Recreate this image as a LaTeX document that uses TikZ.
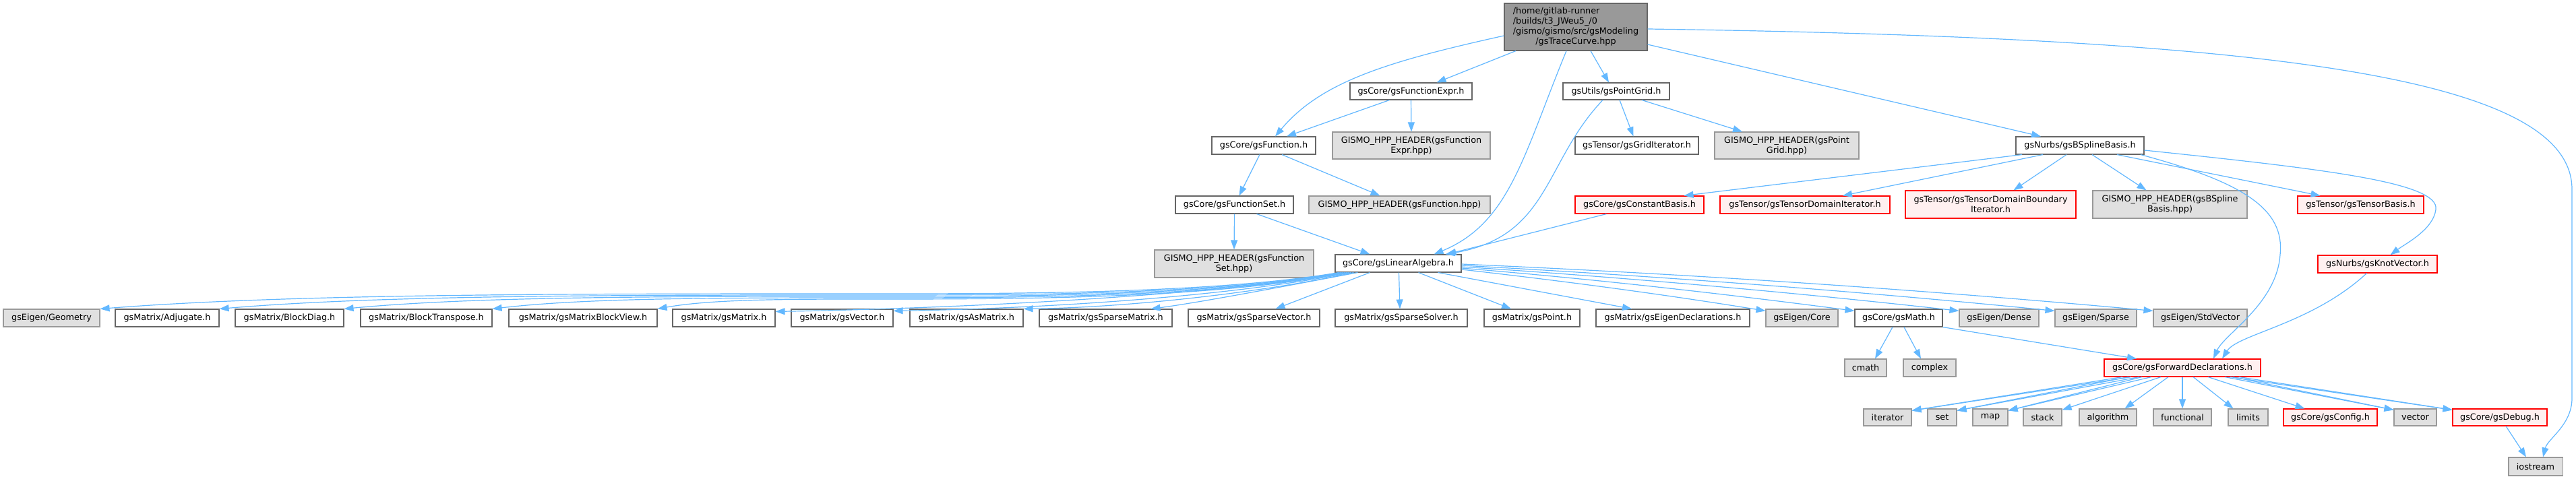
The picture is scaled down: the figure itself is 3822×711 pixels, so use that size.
\documentclass[tikz,border=0pt]{standalone}
\usepackage{fontspec}
\setmainfont{DejaVu Sans}
\usetikzlibrary{arrows.meta}
\definecolor{edgec}{HTML}{63B8FF}
\definecolor{bordn}{HTML}{666666}
\definecolor{bords}{HTML}{999999}
\definecolor{fills}{HTML}{E0E0E0}
\definecolor{fillr}{HTML}{FFF0F0}
\definecolor{filltop}{HTML}{999999}
\definecolor{bordr}{HTML}{FF0000}
\begin{document}
\begin{tikzpicture}[x=1pt,y=1pt,
  base/.style={draw, line width=1.1pt, inner sep=0pt, anchor=center, font=\fontsize{12.8}{15}\selectfont},
  nrm/.style={base, draw=bordn, fill=white},
  sys/.style={base, draw=bords, fill=fills},
  trunc/.style={base, draw=bordr, fill=fillr},
  topn/.style={base, draw=bordn, fill=filltop},
  wh/.style 2 args={minimum width=#1, minimum height=#2},
  edg/.style={draw=edgec, line width=1.2pt, -{Triangle[length=14pt,width=10pt]}}
]
\useasboundingbox (0,0) rectangle (3822,711);
\fill[white] (0,0) rectangle (3822,711);

% ---------- nodes ----------
\node[topn, wh={212}{70}] (T) at (2338,671) {\begin{tabular}{@{}l@{}}/home/gitlab-runner\\/builds/t3\_JWeu5\_/0\\/gismo/gismo/src/gsModeling\\\multicolumn{1}{@{}c@{}}{/gsTraceCurve.hpp}\end{tabular}};
\node[nrm, wh={181}{25}] (FE) at (2093.5,575.5) {gsCore/gsFunctionExpr.h};
\node[nrm, wh={158}{25}] (PG) at (2398,575.5) {gsUtils/gsPointGrid.h};

\node[nrm, wh={154}{26}] (FN) at (1875,495) {gsCore/gsFunction.h};
\node[sys, wh={234}{40}, align=center] (GFE) at (2094,495) {GISMO\_HPP\_HEADER(gsFunction\\Expr.hpp)};
\node[nrm, wh={183}{26}] (GI) at (2428.5,495) {gsTensor/gsGridIterator.h};
\node[sys, wh={214}{40}, align=center] (GPG) at (2651,495) {GISMO\_HPP\_HEADER(gsPoint\\Grid.hpp)};
\node[nrm, wh={190}{26}] (BSB) at (3086,495) {gsNurbs/gsBSplineBasis.h};

\node[nrm, wh={175}{26}] (FS) at (1831.5,407) {gsCore/gsFunctionSet.h};
\node[sys, wh={269}{26}] (GF) at (2076.5,407) {GISMO\_HPP\_HEADER(gsFunction.hpp)};
\node[trunc, wh={191}{26}] (CB) at (2432.5,407) {gsCore/gsConstantBasis.h};
\node[trunc, wh={252}{26}] (TDI) at (2678,407) {gsTensor/gsTensorDomainIterator.h};
\node[trunc, wh={253}{41}, align=center] (TDBI) at (2953.5,407.5) {gsTensor/gsTensorDomainBoundary\\Iterator.h};
\node[sys, wh={229}{41}, align=center] (GBSB) at (3219.5,407.5) {GISMO\_HPP\_HEADER(gsBSpline\\Basis.hpp)};
\node[trunc, wh={187}{26}] (TB) at (3502.5,407) {gsTensor/gsTensorBasis.h};

\node[sys, wh={236}{41}, align=center] (GFS) at (1831,319.5) {GISMO\_HPP\_HEADER(gsFunction\\Set.hpp)};
\node[nrm, wh={187}{26}] (LA) at (2074.5,320) {gsCore/gsLinearAlgebra.h};
\node[trunc, wh={177}{26}] (KV) at (3527.5,319) {gsNurbs/gsKnotVector.h};

\node[sys, wh={143}{26}] (GEO) at (76.5,239) {gsEigen/Geometry};
\node[nrm, wh={154}{26}] (ADJ) at (248,239) {gsMatrix/Adjugate.h};
\node[nrm, wh={161}{26}] (BD) at (429.5,239) {gsMatrix/BlockDiag.h};
\node[nrm, wh={195}{26}] (BT) at (632.5,239) {gsMatrix/BlockTranspose.h};
\node[nrm, wh={220}{26}] (MBV) at (865,239) {gsMatrix/gsMatrixBlockView.h};
\node[nrm, wh={152}{26}] (MAT) at (1074,239) {gsMatrix/gsMatrix.h};
\node[nrm, wh={151}{26}] (VECM) at (1249.5,239) {gsMatrix/gsVector.h};
\node[nrm, wh={168}{26}] (ASM) at (1434,239) {gsMatrix/gsAsMatrix.h};
\node[nrm, wh={197}{26}] (SPM) at (1640.5,239) {gsMatrix/gsSparseMatrix.h};
\node[nrm, wh={195}{26}] (SPV) at (1860.5,239) {gsMatrix/gsSparseVector.h};
\node[nrm, wh={196}{26}] (SS) at (2079,239) {gsMatrix/gsSparseSolver.h};
\node[nrm, wh={142}{26}] (PT) at (2273,239) {gsMatrix/gsPoint.h};
\node[nrm, wh={228}{26}] (ED) at (2482,239) {gsMatrix/gsEigenDeclarations.h};
\node[sys, wh={107}{26}] (CORE) at (2673.5,239) {gsEigen/Core};
\node[nrm, wh={130}{26}] (MATH) at (2817,239) {gsCore/gsMath.h};
\node[sys, wh={118}{26}] (DENSE) at (2966,239) {gsEigen/Dense};
\node[sys, wh={121}{26}] (SPARSE) at (3109.5,239) {gsEigen/Sparse};
\node[sys, wh={139}{26}] (STDV) at (3264.5,239) {gsEigen/StdVector};

\node[sys, wh={62}{26}] (CMATH) at (2768,165) {cmath};
\node[sys, wh={78}{26}] (CPLX) at (2863,165) {complex};
\node[trunc, wh={232}{26}] (FD) at (3238,165) {gsCore/gsForwardDeclarations.h};

\node[sys, wh={71}{25}] (IT) at (2800.5,91.5) {iterator};
\node[sys, wh={43}{25}] (SET) at (2881.5,91.5) {set};
\node[sys, wh={52}{25}] (MAP) at (2953,91.5) {map};
\node[sys, wh={57}{25}] (STK) at (3030.5,91.5) {stack};
\node[sys, wh={85}{25}] (ALG) at (3127.5,91.5) {algorithm};
\node[sys, wh={86}{25}] (FUN) at (3238,91.5) {functional};
\node[sys, wh={59}{25}] (LIM) at (3335.5,91.5) {limits};
\node[trunc, wh={139}{25}] (CFG) at (3457.5,91.5) {gsCore/gsConfig.h};
\node[sys, wh={63}{25}] (VEC) at (3583.5,91.5) {vector};
\node[trunc, wh={140}{25}] (DBG) at (3709,91.5) {gsCore/gsDebug.h};

\node[sys, wh={80}{27}] (IO) at (3762,18.5) {iostream};

% ---------- edges from top ----------
\draw[edg] ([yshift=-13]T.west) .. controls (2060,620) and (1960,590) .. ([xshift=17]FN.north);
\draw[edg] ([xshift=-89]T.south) -- ([xshift=38]FE.north);
\draw[edg] ([xshift=22]T.south) -- ([xshift=-11]PG.north);
\draw[edg] ([xshift=-14]T.south) .. controls (2260,480) and (2240,380) .. ([xshift=53]LA.north);
\draw[edg] ([yshift=-26]T.east) -- ([xshift=-58]BSB.north);
\draw[edg] ([yshift=-3]T.east) .. controls (3350,655) and (3816,600) .. (3816,430) -- (3816,120) .. controls (3816,80) and (3780,60) .. ([xshift=11]IO.north);

\draw[edg] ([xshift=-32]FE.south) -- ([xshift=34]FN.north);
\draw[edg] (FE.south) -- (GFE.north);
\draw[edg] ([xshift=-6]FN.south) -- ([xshift=7]FS.north);
\draw[edg] ([xshift=27]FN.south) -- ([xshift=-29]GF.north);
\draw[edg] ([xshift=5]PG.south) -- ([xshift=-5]GI.north);
\draw[edg] ([xshift=38]PG.south) -- ([xshift=-66]GPG.north);
\draw[edg] ([xshift=-20]PG.south) .. controls (2290,470) and (2300,360) .. ([xshift=70]LA.north);
\draw[edg] ([xshift=-49]CB.south) -- ([xshift=72]LA.north);
\draw[edg] (FS.south) -- (GFS.north);
\draw[edg] ([xshift=33]FS.south) -- ([xshift=-42]LA.north);

\draw[edg] ([xshift=-86]BSB.south) -- ([xshift=66]CB.north);
\draw[edg] ([xshift=-55]BSB.south) -- ([xshift=56]TDI.north);
\draw[edg] ([xshift=-20]BSB.south) -- ([xshift=34]TDBI.north);
\draw[edg] ([xshift=18]BSB.south) -- ([xshift=-35]GBSB.north);
\draw[edg] ([xshift=55]BSB.south) -- ([xshift=-60]TB.north);
\draw[edg] ([xshift=90]BSB.south) .. controls (3330,440) and (3390,400) .. (3383,333) .. controls (3378,260) and (3300,215) .. ([xshift=46]FD.north);
\draw[edg] ([yshift=-7]BSB.east) .. controls (3450,460) and (3620,440) .. (3614,400) .. controls (3610,370) and (3570,350) .. ([xshift=19]KV.north);
\draw[edg] ([xshift=-16]KV.south) .. controls (3430,230) and (3320,215) .. ([xshift=59]FD.north);

% ---------- linear algebra fan ----------
\draw[edg] ([xshift=6]LA.south west) .. controls (1800,275) and (1500,275) .. (1300,275) .. controls (839,275) and (436,275) .. (GEO.north east);
\draw[edg] ([xshift=9]LA.south west) .. controls (1800,273) and (1500,273) .. (1300,273) .. controls (910,273) and (569,273) .. (ADJ.north east);
\draw[edg] ([xshift=12]LA.south west) .. controls (1800,271) and (1500,271) .. (1300,271) .. controls (984,271) and (707,271) .. (BD.north east);
\draw[edg] ([xshift=15]LA.south west) .. controls (1800,269) and (1500,269) .. (1300,269) .. controls (1072,269) and (872,269) .. (BT.north east);
\draw[edg] ([xshift=18]LA.south west) .. controls (1800,267) and (1500,267) .. (1300,267) .. controls (1170,267) and (1056,267) .. (MBV.north east);
\draw[edg] ([xshift=21]LA.south west) .. controls (1750,266) and (1350,252) .. ([yshift=-4]MAT.north east);
\draw[edg] ([xshift=24]LA.south west) .. controls (1800,266) and (1500,252) .. ([yshift=-3]VECM.north east);
\draw[edg] ([xshift=28]LA.south west) .. controls (1850,272) and (1650,254) .. (ASM.north east);
\draw[edg] ([xshift=34]LA.south west) .. controls (1900,285) and (1780,262) .. ([xshift=67]SPM.north);
\draw[edg] ([xshift=52]LA.south west) -- ([xshift=32]SPV.north);
\draw[edg] ([xshift=1]LA.south) -- ([xshift=-2]SS.north);
\draw[edg] ([xshift=30]LA.south) -- ([xshift=-31]PT.north);
\draw[edg] ([xshift=59]LA.south) -- ([xshift=-61]ED.north);
\draw[edg] ([yshift=-9]LA.east) .. controls (2319,294) and (2469,274) .. ([yshift=-3]CORE.north west);
\draw[edg] ([yshift=-7]LA.east) .. controls (2363,297) and (2557,275) .. ([yshift=-3]MATH.north west);
\draw[edg] ([yshift=-5]LA.east) .. controls (2414,299) and (2661,277) .. ([yshift=-3]DENSE.north west);
\draw[edg] ([yshift=-3]LA.east) .. controls (2462,301) and (2755,279) .. ([yshift=-3]SPARSE.north west);
\draw[edg] ([yshift=-1]LA.east) .. controls (2510,304) and (2853,281) .. ([yshift=-3]STDV.north west);

% ---------- math ----------
\draw[edg] ([xshift=-9]MATH.south) -- ([xshift=14]CMATH.north);
\draw[edg] ([xshift=8]MATH.south) -- ([xshift=-13]CPLX.north);
\draw[edg] (MATH.south east) -- ([xshift=-68]FD.north);

% ---------- forward declarations ----------
\draw[edg] ([xshift=-89]FD.south) -- ([yshift=-3]IT.north east);
\draw[edg] ([xshift=-76]FD.south) -- ([yshift=-3]IT.north east);
\draw[edg] ([xshift=-80]FD.south) -- ([yshift=-3]SET.north east);
\draw[edg] ([xshift=-64]FD.south) -- ([yshift=-3]SET.north east);
\draw[edg] ([xshift=-60]FD.south) -- ([yshift=-3]MAP.north east);
\draw[edg] ([xshift=-46]FD.south) -- ([yshift=-3]MAP.north east);
\draw[edg] ([xshift=-32]FD.south) -- ([yshift=-2]STK.north east);
\draw[edg] ([xshift=-21]FD.south) -- ([xshift=25]ALG.north);
\draw[edg] (FD.south) -- (FUN.north);
\draw[edg] ([xshift=16]FD.south) -- ([xshift=-22]LIM.north);
\draw[edg] ([xshift=38]FD.south) -- ([xshift=-38]CFG.north);
\draw[edg] ([xshift=63]FD.south) -- ([yshift=-2]VEC.north west);
\draw[edg] ([xshift=75]FD.south) -- ([yshift=-2]VEC.north west);
\draw[edg] ([xshift=71]FD.south) -- ([yshift=-2]DBG.north west);
\draw[edg] ([xshift=84]FD.south) -- ([yshift=-2]DBG.north west);
\draw[edg] ([xshift=9]DBG.south) -- ([xshift=-14]IO.north);
\end{tikzpicture}
\end{document}
